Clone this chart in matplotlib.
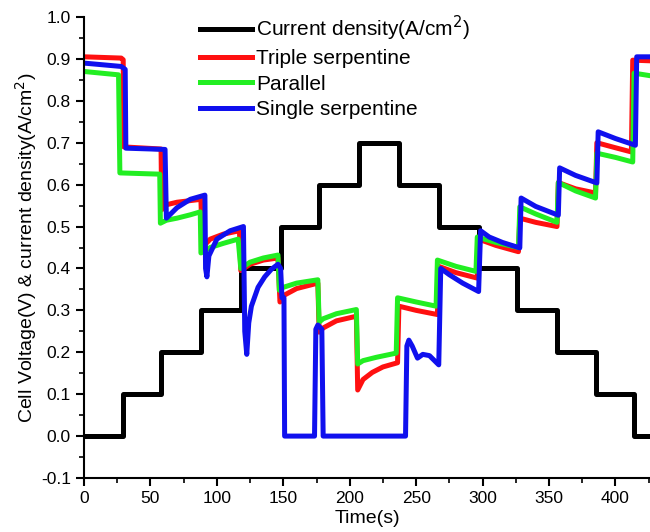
import matplotlib
matplotlib.use("Agg")
import matplotlib.pyplot as plt
from matplotlib.ticker import MultipleLocator

plt.rcParams['font.family'] = ['Liberation Sans', 'DejaVu Sans']

# current density steps (A/cm2)
cd_time = [0, 29, 58, 88, 118, 148, 177, 207, 237, 267, 297, 326, 356, 385, 414, 430]
cd_level = [0.0, 0.1, 0.2, 0.3, 0.4, 0.5, 0.6, 0.7, 0.6, 0.5, 0.4, 0.3, 0.2, 0.1, 0.0, 0.0]

# triple serpentine
red_t = [0, 28, 29.5, 30, 58, 58.5, 62, 70, 88, 89, 95, 105, 117, 118, 125, 135, 146,
         147.5, 150, 160, 176, 177, 180, 190, 205, 206, 210, 217, 225, 236, 237, 250, 266,
         267, 280, 296, 297, 310, 327, 328, 340, 356, 357, 370, 385, 386, 400, 412, 413, 430]
red_v = [0.905, 0.902, 0.898, 0.69, 0.685, 0.54, 0.552, 0.558, 0.565, 0.45, 0.47, 0.482, 0.49,
         0.395, 0.41, 0.42, 0.425, 0.32, 0.335, 0.352, 0.365, 0.248, 0.258, 0.275, 0.286,
         0.11, 0.135, 0.152, 0.165, 0.175, 0.31, 0.30, 0.29, 0.405, 0.39, 0.377, 0.47, 0.455,
         0.44, 0.52, 0.51, 0.50, 0.605, 0.59, 0.58, 0.70, 0.688, 0.678, 0.897, 0.895]

# parallel
green_t = [0, 26, 27, 57, 57.5, 62, 70, 80, 87.5, 88, 95, 105, 116, 118, 125, 135, 146,
           147, 150, 160, 176, 177, 180, 190, 205, 206, 210, 220, 235, 236, 250, 265,
           266, 280, 295, 296, 310, 327, 328, 340, 356, 357, 370, 385, 386, 400, 413, 414, 430]
green_v = [0.87, 0.862, 0.628, 0.625, 0.508, 0.515, 0.52, 0.528, 0.535, 0.437, 0.45, 0.46,
           0.47, 0.40, 0.415, 0.425, 0.432, 0.348, 0.355, 0.365, 0.373, 0.272, 0.28, 0.292,
           0.302, 0.172, 0.18, 0.188, 0.198, 0.33, 0.32, 0.31, 0.42, 0.405, 0.393, 0.475,
           0.462, 0.45, 0.547, 0.53, 0.51, 0.605, 0.585, 0.568, 0.675, 0.665, 0.654, 0.866, 0.858]

# single serpentine
blue_t = [0, 28, 31, 31.5, 61, 62, 70, 80, 91, 91.5, 92.5, 94, 100, 110, 120, 121, 122.5,
          124, 126, 131, 136, 141, 146, 148, 149, 150.5, 151, 173.5, 174.5, 176, 179, 180,
          242, 243, 244.5, 247, 251, 255, 260, 267, 268.5, 275, 285, 297, 298.5, 305, 315,
          328, 329, 340, 357, 358, 370, 386, 387, 400, 415, 416, 430]
blue_v = [0.89, 0.882, 0.875, 0.687, 0.684, 0.52, 0.545, 0.565, 0.575, 0.40, 0.38, 0.43,
          0.47, 0.49, 0.50, 0.25, 0.195, 0.27, 0.31, 0.355, 0.38, 0.398, 0.41, 0.40, 0.33,
          0.33, 0.0, 0.0, 0.255, 0.265, 0.255, 0.0, 0.0, 0.215, 0.229, 0.215, 0.186, 0.195,
          0.192, 0.17, 0.40, 0.385, 0.365, 0.345, 0.49, 0.475, 0.462, 0.449, 0.568, 0.548,
          0.527, 0.64, 0.622, 0.604, 0.726, 0.71, 0.694, 0.905, 0.905]

fig = plt.figure(figsize=(6.5, 5.32), dpi=100)
ax = fig.add_axes([84 / 650, 1 - 478 / 532, 1 - 84 / 650, (478 - 17) / 532])

lw = 3.6
ax.plot(cd_time, cd_level, drawstyle='steps-post', color='black', lw=lw,
        label='Current density(A/cm$^2$)')
ax.plot(red_t, red_v, color='#ff1010', lw=lw, label='Triple serpentine')
ax.plot(green_t, green_v, color='#22ee22', lw=lw, label='Parallel')
ax.plot(blue_t, blue_v, color='#1010ee', lw=lw, label='Single serpentine')

ax.set_xlim(0, 426)
ax.set_ylim(-0.1, 1.0)
ax.xaxis.set_major_locator(MultipleLocator(50))
ax.xaxis.set_minor_locator(MultipleLocator(25))
ax.yaxis.set_major_locator(MultipleLocator(0.1))
ax.yaxis.set_minor_locator(MultipleLocator(0.05))
ax.yaxis.set_major_formatter(matplotlib.ticker.FormatStrFormatter('%.1f'))

for side in ['top', 'right']:
    ax.spines[side].set_visible(False)
ax.spines['left'].set_linewidth(1.5)
ax.spines['bottom'].set_linewidth(1.5)
ax.tick_params(which='major', direction='out', length=6, width=1.5, labelsize=12.5)
ax.tick_params(which='minor', direction='out', length=3.5, width=1.2)

ax.set_xlabel('Time(s)', fontsize=14, labelpad=3)
ax.set_ylabel('Cell Voltage(V) & current density(A/cm$^2$)', fontsize=14, labelpad=1)

ax.legend(loc='upper left', bbox_to_anchor=(200 / 650, 1 - 14 / 532),
          bbox_transform=fig.transFigure, frameon=False, fontsize=15,
          borderpad=0, borderaxespad=0, handlelength=2.5, handletextpad=0.2,
          labelspacing=0.3)

fig.savefig('out.png', dpi=100)
